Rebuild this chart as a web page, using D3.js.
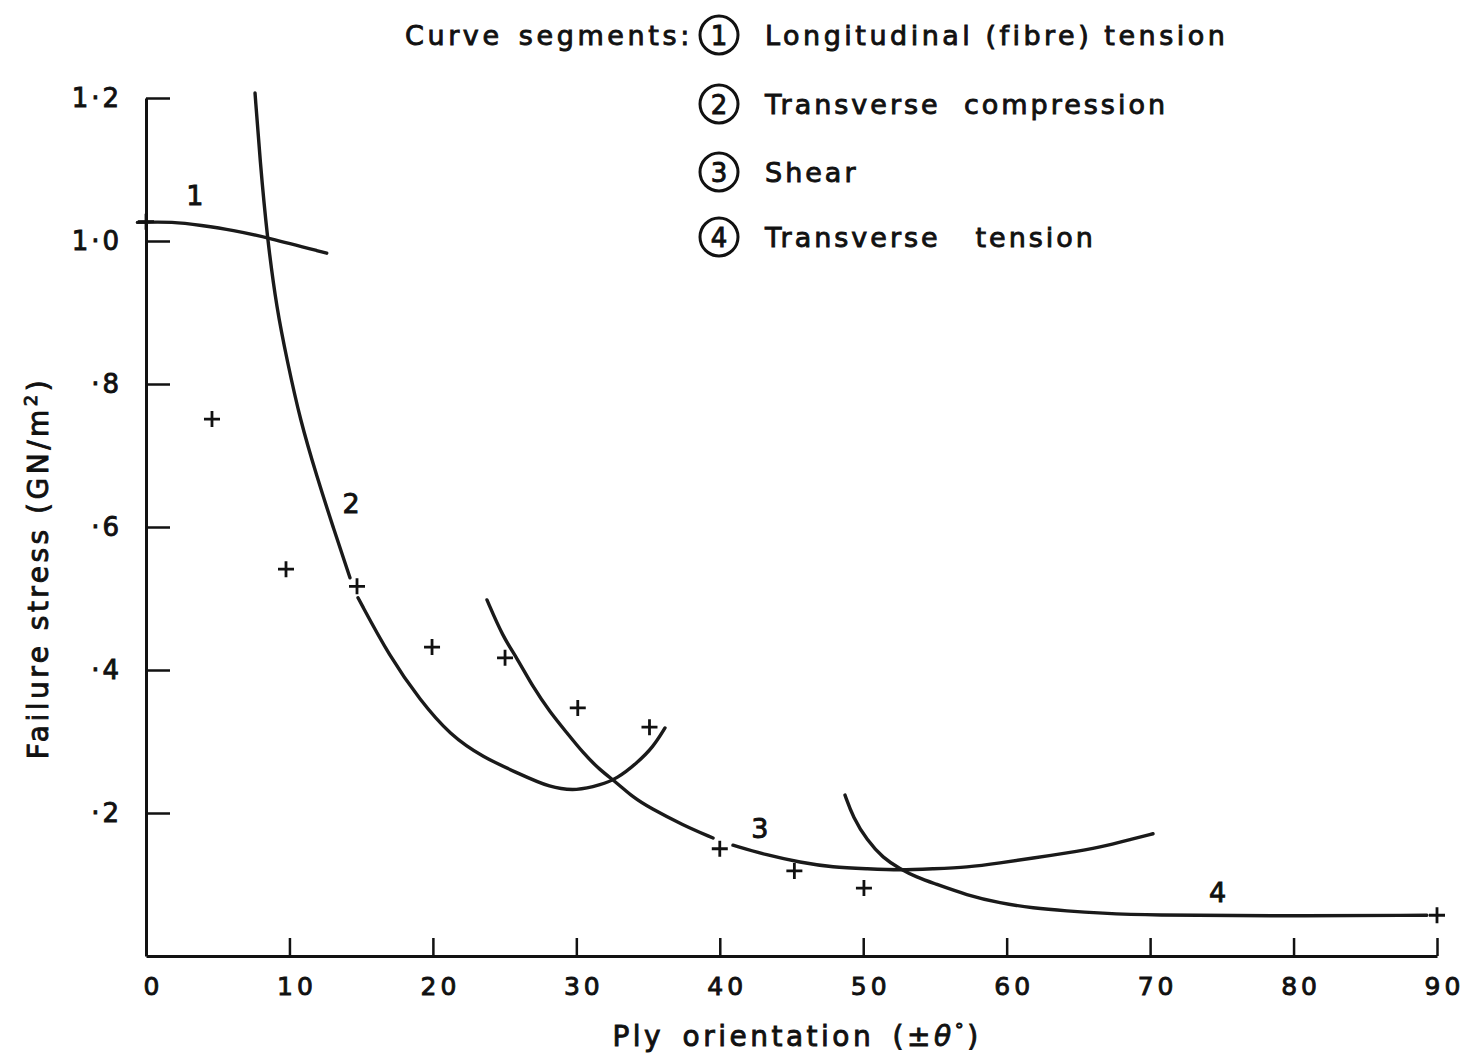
<!DOCTYPE html>
<html>
<head>
<meta charset="utf-8">
<script src="https://cdn.jsdelivr.net/npm/d3@7"></script>
<style>
  body { margin: 0; background: #fff; }
  svg text { font-family: "DejaVu Sans", sans-serif; fill: #111; stroke: #111; stroke-width: 0.9px; }
</style>
</head>
<body>
<svg id="chart" width="1468" height="1058"></svg>
<script>
// ply angle (deg) vs failure stress (GN/m2)
var xTicks = [0, 10, 20, 30, 40, 50, 60, 70, 80, 90];
var yTicks = [0.2, 0.4, 0.6, 0.8, 1.0, 1.2];

var curve1 = [[-0.6, 1.026], [1.9, 1.027], [3.8, 1.022], [6.1, 1.015], [8.4, 1.005], [12.6, 0.983]];

var curve2a = [[7.6, 1.207], [7.95, 1.113], [8.44, 1.006], [9.13, 0.903], [9.83, 0.834], [10.74, 0.750],
               [11.92, 0.670], [13.04, 0.600], [14.22, 0.529]];
var curve2b = [[14.78, 0.501], [17.0, 0.418], [19.1, 0.358], [21.2, 0.309], [23.5, 0.278], [25.9, 0.256],
               [28.2, 0.235], [30.05, 0.231], [31.65, 0.239], [32.84, 0.248], [34.23, 0.270], [35.35, 0.292],
               [36.18, 0.319]];

var curve3a = [[23.77, 0.498], [24.89, 0.446], [25.86, 0.417], [26.98, 0.376], [28.17, 0.341], [29.35, 0.312],
               [30.47, 0.284], [31.65, 0.260], [32.84, 0.242], [33.95, 0.222], [35.14, 0.207], [37.44, 0.183],
               [39.53, 0.165]];
var curve3b = [[40.92, 0.155], [43.29, 0.141], [45.59, 0.131], [47.89, 0.124], [50.26, 0.122], [52.56, 0.120],
               [54.87, 0.122], [57.24, 0.124], [59.54, 0.130], [61.84, 0.137], [64.21, 0.144], [66.51, 0.152],
               [68.81, 0.164], [70.2, 0.171]];

var curve4 = [[48.73, 0.225], [49.29, 0.194], [50.26, 0.162], [51.38, 0.137], [52.56, 0.122], [53.75, 0.110],
              [54.87, 0.102], [57.24, 0.085], [59.54, 0.074], [61.84, 0.067], [64.21, 0.063], [66.51, 0.060],
              [70.0, 0.057], [78.15, 0.056], [89.3, 0.057]];

var pointAngles = [0, 4.6, 9.76, 14.71, 19.94, 25.03, 30.1, 35.1, 40.0, 45.2, 50.05, 90];
var pointStress = [1.027, 0.751, 0.541, 0.517, 0.432, 0.417, 0.347, 0.320, 0.150, 0.119, 0.095, 0.057];

var curveLabels = ["1", "2", "3", "4"];
var curveLabelAt = [[3.4, 1.05], [14.3, 0.62], [42.8, 0.165], [74.7, 0.075]];

var legendNums = ["1", "2", "3", "4"];
var legendText = ["Longitudinal (fibre) tension", "Transverse  compression", "Shear", "Transverse   tension"];

var svg = d3.select("#chart");

var x = d3.scaleLinear().domain([0, 90]).range([146, 1437]);
var y = d3.scaleLinear().domain([0, 1.2]).range([956, 98]);

function fmtY(d) {
    var s = d3.format(".1f")(d).replace(".", "\u00b7");
    return s.charAt(0) == "0" ? s.slice(1) : s;
}

// axes
var xAxis = svg.append("g")
    .attr("transform", "translate(0," + y(0) + ")")
    .call(d3.axisBottom(x).tickValues(xTicks).tickSize(-18).tickSizeOuter(0).tickPadding(21));
xAxis.selectAll("text").attr("dx", 7).style("font-size", "25px").style("letter-spacing", "4px");

var yAxis = svg.append("g")
    .attr("transform", "translate(" + x(0) + ",0)")
    .call(d3.axisLeft(y).tickValues(yTicks).tickFormat(fmtY).tickSize(-24).tickSizeOuter(0).tickPadding(24));
yAxis.selectAll("text").style("font-size", "26px").style("letter-spacing", "3px");

svg.selectAll(".domain, .tick line").attr("stroke", "#111").attr("stroke-width", 3);
svg.selectAll(".tick line").attr("stroke-width", 2.5);

// curves
var line = d3.line()
    .x(function(d) { return x(d[0]); })
    .y(function(d) { return y(d[1]); })
    .curve(d3.curveBasis);

[curve1, curve2a, curve2b, curve3a, curve3b, curve4].forEach(function(c) {
    svg.append("path")
        .attr("d", line(c))
        .attr("fill", "none")
        .attr("stroke", "#1a1a1a")
        .attr("stroke-width", 3.4)
        .attr("stroke-linecap", "round");
});

// data points
var pts = d3.zip(pointAngles, pointStress);
svg.selectAll(".pt")
    .data(pts)
    .enter().append("path")
    .attr("class", "pt")
    .attr("d", function(d) {
        var px = x(d[0]), py = y(d[1]), r = 8;
        return "M" + (px - r) + "," + py + "H" + (px + r) + "M" + px + "," + (py - r) + "V" + (py + r);
    })
    .attr("stroke", "#111")
    .attr("stroke-width", 2.8)
    .attr("fill", "none");

// curve numbers
svg.selectAll(".clab")
    .data(curveLabels)
    .enter().append("text")
    .attr("x", function(d, i) { return x(curveLabelAt[i][0]); })
    .attr("y", function(d, i) { return y(curveLabelAt[i][1]); })
    .attr("text-anchor", "middle")
    .style("font-size", "27px")
    .text(function(d) { return d; });

// legend
svg.append("text")
    .attr("x", 405).attr("y", 45)
    .style("font-size", "27px").style("letter-spacing", "3.6px").style("word-spacing", "4px")
    .text("Curve segments:");

var legendY = [35, 104, 172, 237];
var leg = svg.selectAll(".leg")
    .data(legendText)
    .enter().append("g")
    .attr("transform", function(d, i) { return "translate(719," + legendY[i] + ")"; });

leg.append("circle")
    .attr("r", 19)
    .attr("fill", "none")
    .attr("stroke", "#111")
    .attr("stroke-width", 3);
leg.append("text")
    .attr("text-anchor", "middle")
    .attr("y", 10)
    .style("font-size", "26px")
    .text(function(d, i) { return legendNums[i]; });
leg.append("text")
    .attr("x", 46)
    .attr("y", 10)
    .style("font-size", "27px")
    .style("letter-spacing", function(d, i) { return i == 0 ? "3.5px" : "3px"; })
    .style("white-space", "pre")
    .text(function(d) { return d; });

// axis titles
svg.append("text")
    .attr("x", 797).attr("y", 1046)
    .attr("text-anchor", "middle")
    .style("font-size", "28px").style("letter-spacing", "3.5px").style("word-spacing", "6px")
    .html("Ply orientation (<tspan>\u00b1</tspan><tspan font-style='italic'>\u03b8</tspan><tspan dy='-10' font-size='18px'>\u00b0</tspan><tspan dy='10'>)</tspan>");

var yt = svg.append("text")
    .attr("transform", "translate(48,568) rotate(-90)")
    .attr("text-anchor", "middle")
    .style("font-size", "28px").style("letter-spacing", "3.5px");
yt.append("tspan").text("Failure stress (GN/m");
yt.append("tspan").attr("dy", -11).style("font-size", "18px").text("2");
yt.append("tspan").attr("dy", 11).text(")");
</script>
</body>
</html>
